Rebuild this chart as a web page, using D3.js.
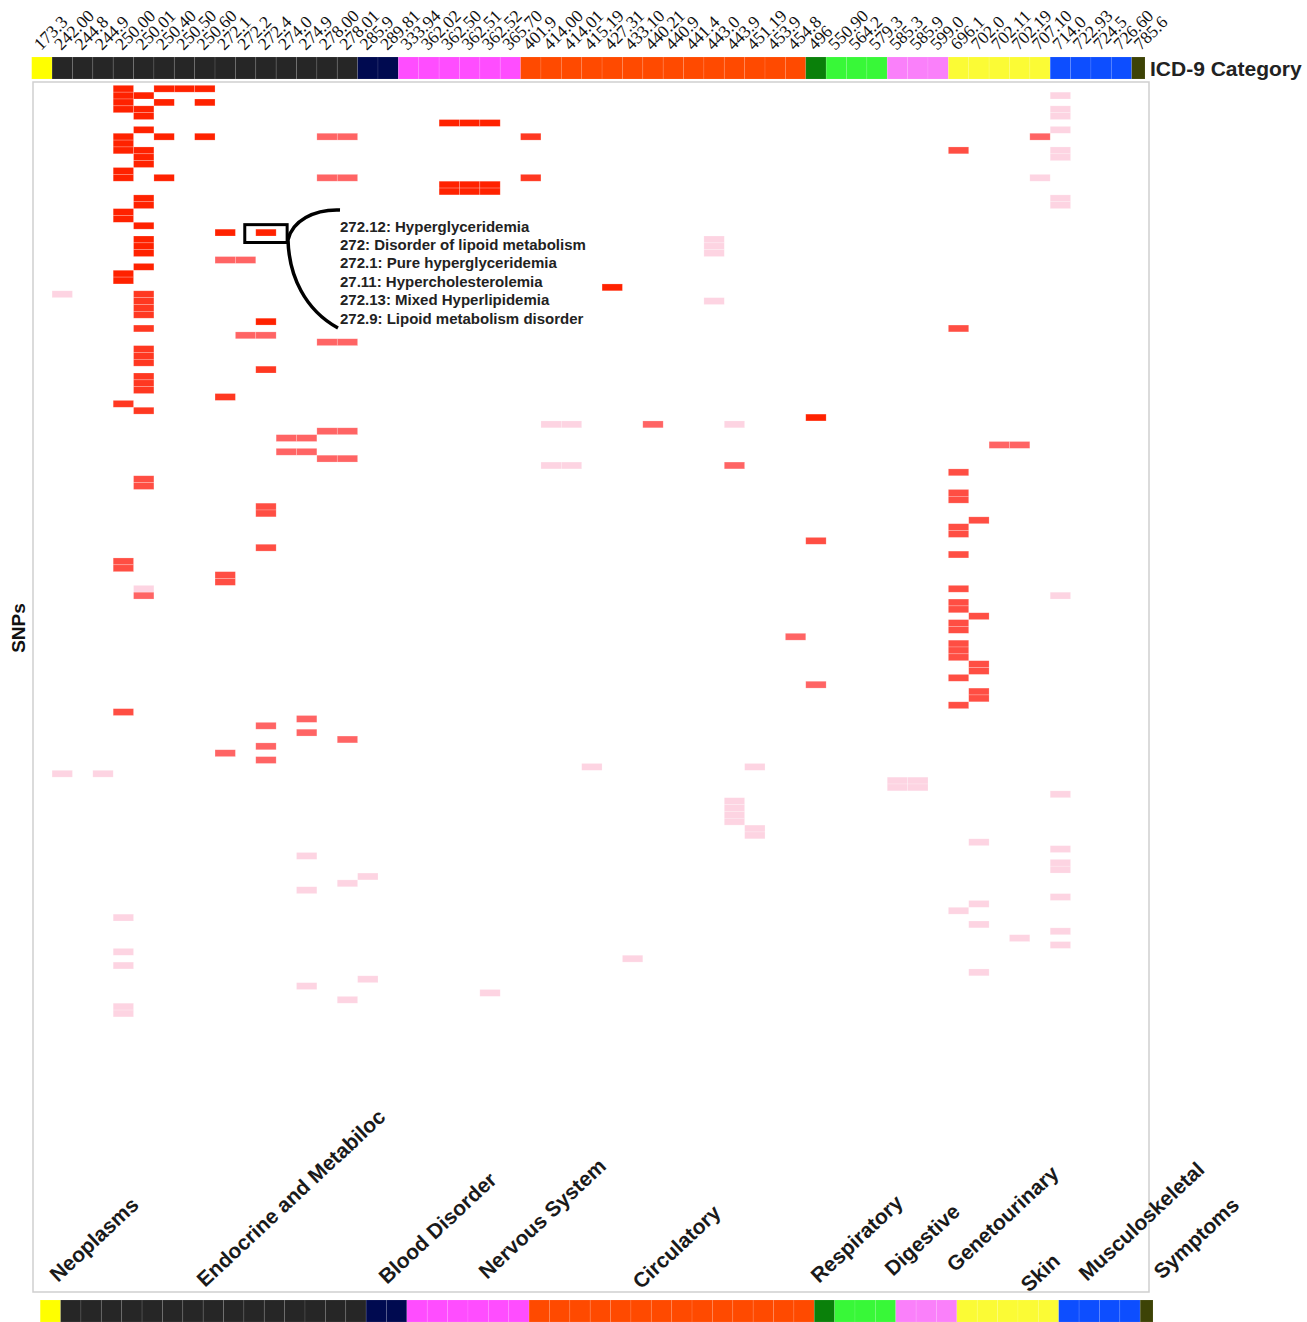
<!DOCTYPE html>
<html>
<head>
<meta charset="utf-8">
<script src="https://cdn.jsdelivr.net/npm/d3@7"></script>
<style>
  body { margin: 0; background: #fff; }
  svg { display: block; }
</style>
</head>
<body>
<div id="chart"></div>
<script>
// ICD-9 codes, one column each
const codes = ["173.3", "242.00", "244.8", "244.9", "250.00", "250.01", "250.40", "250.50", "250.60",
  "272.1", "272.2", "272.4", "274.0", "274.9", "278.00", "278.01", "285.9", "289.81", "333.94",
  "362.02", "362.50", "362.51", "362.52", "365.70", "401.9", "414.00", "414.01", "415.19", "427.31",
  "433.10", "440.21", "440.9", "441.4", "443.0", "443.9", "451.19", "453.9", "454.8", "496",
  "550.90", "564.2", "579.3", "585.3", "585.9", "599.0", "696.1", "702.0", "702.11", "702.19",
  "707.10", "714.0", "722.93", "724.5", "726.60", "785.6"];

const categories = ["Neoplasms", "Endocrine and Metabiloc", "Blood Disorder", "Nervous System", "Circulatory",
  "Respiratory", "Digestive", "Genetourinary", "Skin", "Musculoskeletal", "Symptoms"];
// number of codes in each category, in column order
const categorySizes = [1, 15, 2, 6, 14, 1, 3, 3, 5, 4, 1];

const snpCount = 176;

// hits: code -> SNP row indexes, one list per strength (4 = strongest)
const hits4 = {
  "250.00": [0, 1, 2, 3, 7, 8, 9, 12, 13, 18, 19, 27, 28],
  "250.01": [1, 3, 4, 6, 9, 10, 11, 16, 17, 20, 22, 23, 24, 26],
  "250.40": [0, 2, 7, 13],
  "250.50": [0],
  "250.60": [0, 2, 7],
  "272.1": [21],
  "272.4": [21, 34],
  "362.50": [5, 14, 15],
  "362.51": [5, 14, 15],
  "362.52": [5, 14, 15],
  "427.31": [29],
  "496": [48]
};
const hits3 = {
  "250.00": [46],
  "250.01": [30, 31, 32, 33, 35, 38, 39, 40, 42, 43, 44, 47],
  "272.1": [45],
  "272.4": [41],
  "401.9": [7, 13]
};
const hits2 = {
  "250.00": [69, 70, 91],
  "250.01": [57, 58],
  "272.1": [71, 72],
  "272.4": [61, 62, 67],
  "496": [66],
  "696.1": [9, 35, 56, 59, 60, 64, 65, 68, 73, 75, 76, 78, 79, 81, 82, 83, 86, 90],
  "702.0": [63, 77, 84, 85, 88, 89]
};
const hits1 = {
  "250.01": [74],
  "272.1": [25, 97],
  "272.2": [25, 36],
  "272.4": [36, 93, 96, 98],
  "274.0": [51, 53],
  "274.9": [51, 53, 92, 94],
  "278.00": [7, 13, 37, 50, 54],
  "278.01": [7, 13, 37, 50, 54, 95],
  "440.21": [49],
  "443.9": [55],
  "454.8": [80],
  "496": [87],
  "702.11": [52],
  "702.19": [52],
  "707.10": [7]
};
const hits0 = {
  "242.00": [30, 100],
  "244.9": [100],
  "250.00": [121, 126, 128, 134, 135],
  "250.01": [73],
  "274.9": [112, 117, 131],
  "278.01": [116, 133],
  "285.9": [115, 130],
  "362.52": [132],
  "414.00": [49, 55],
  "414.01": [49, 55],
  "415.19": [99],
  "433.10": [127],
  "443.0": [22, 23, 24, 31],
  "443.9": [49, 104, 105, 106, 107],
  "451.19": [99, 108, 109],
  "585.3": [101, 102],
  "585.9": [101, 102],
  "696.1": [120],
  "702.0": [110, 119, 122, 129],
  "702.19": [124],
  "707.10": [13],
  "714.0": [1, 3, 4, 6, 9, 10, 16, 17, 74, 103, 111, 113, 114, 118, 123, 125]
};

const annotationLines = ["272.12: Hyperglyceridemia", "272: Disorder of lipoid metabolism",
  "272.1: Pure hyperglyceridemia", "27.11: Hypercholesterolemia", "272.13: Mixed Hyperlipidemia",
  "272.9: Lipoid metabolism disorder"];

// ---- styles / layout ----
const catColors = ["#ffff00", "#262626", "#000a50", "#ff4dff", "#ff4a00", "#0a800a",
  "#38f838", "#fa80fa", "#fbfb35", "#0d4eff", "#3d4306"];
// bottom label anchors (start of baseline)
const catLabelPos = [[58, 1283], [205, 1288], [387, 1285], [487, 1280], [641, 1290], [819, 1284],
  [893, 1277], [955, 1273], [1029, 1293], [1087, 1282], [1162, 1280]];

const width = 1307, height = 1322;
const colX0 = 31.7, colW = 20.37;
const rowY0 = 85.3, rowH = 6.85;

const svg = d3.select('#chart').append('svg')
  .attr('width', width)
  .attr('height', height);

const x = d3.scaleBand().domain(codes).range([colX0, colX0 + codes.length * colW]);
const y = d3.scaleBand().domain(d3.range(snpCount)).range([rowY0, rowY0 + snpCount * rowH]);
const color = d3.scaleLinear().domain([0, 1, 4]).range(["#fdd4e2", "#ff6464", "#ff2200"]);

// code -> category index
const codeCat = [];
categorySizes.forEach((n, i) => { for (let k = 0; k < n; k++) codeCat.push(i); });

let cells = [];
[hits0, hits1, hits2, hits3, hits4].forEach((h, level) => {
  Object.keys(h).forEach(code => {
    h[code].forEach(r => cells.push({ code: code, row: r, level: level }));
  });
});

// panel border
svg.append('rect')
  .attr('x', 33).attr('y', 82)
  .attr('width', 1116).attr('height', 1210)
  .attr('fill', 'none')
  .attr('stroke', '#cfcfcf')
  .attr('stroke-width', 1.5);

// heatmap cells
svg.append('g').selectAll('rect')
  .data(cells)
  .enter()
  .append('rect')
  .attr('x', d => x(d.code))
  .attr('y', d => y(d.row))
  .attr('width', x.bandwidth())
  .attr('height', y.bandwidth())
  .attr('fill', d => color(d.level))
  .attr('stroke', '#fff')
  .attr('stroke-opacity', 0.35)
  .attr('stroke-width', 0.6);

// category color bars, top and bottom
function colorBar(offsetX, top, rightLimit) {
  svg.append('g').selectAll('rect')
    .data(codes)
    .enter()
    .append('rect')
    .attr('x', d => x(d) + offsetX)
    .attr('y', top)
    .attr('width', d => Math.max(0, Math.min(x.bandwidth(), rightLimit - x(d) - offsetX)))
    .attr('height', 22)
    .attr('fill', (d, i) => catColors[codeCat[i]])
    .attr('stroke', '#fff')
    .attr('stroke-opacity', 0.12)
    .attr('stroke-width', 0.8);
}
colorBar(0, 57, 1145);
colorBar(8.5, 1300, 1153);

// code labels on top
svg.append('g').selectAll('text')
  .data(codes)
  .enter()
  .append('text')
  .attr('transform', d => `translate(${x(d) + x.bandwidth() / 2 - 1}, 51) rotate(-45)`)
  .style('font-family', '"Liberation Serif", "Times New Roman", serif')
  .style('font-size', '17.5px')
  .attr('fill', '#111')
  .text(d => d);

svg.append('text')
  .attr('x', 1150).attr('y', 76)
  .style('font-family', '"Liberation Sans", Arial, sans-serif')
  .style('font-weight', 'bold')
  .style('font-size', '21px')
  .attr('fill', '#222')
  .text('ICD-9 Category');

svg.append('text')
  .attr('transform', 'translate(25, 628) rotate(-90)')
  .attr('text-anchor', 'middle')
  .style('font-family', '"Liberation Sans", Arial, sans-serif')
  .style('font-weight', 'bold')
  .style('font-size', '19px')
  .attr('fill', '#111')
  .text('SNPs');

// category names at the bottom
svg.append('g').selectAll('text')
  .data(categories)
  .enter()
  .append('text')
  .attr('transform', (d, i) => `translate(${catLabelPos[i][0]}, ${catLabelPos[i][1]}) rotate(-43)`)
  .style('font-family', '"Liberation Sans", Arial, sans-serif')
  .style('font-weight', 'bold')
  .style('font-size', '21px')
  .attr('fill', '#1a1a1a')
  .text(d => d);

// annotation: box around 272.4 hit, bracket and text
const boxCode = "272.4", boxRow = 21;
svg.append('rect')
  .attr('x', x(boxCode) - 11)
  .attr('y', y(boxRow) - 4.5)
  .attr('width', x.bandwidth() + 22)
  .attr('height', y.bandwidth() + 11)
  .attr('fill', 'none')
  .attr('stroke', '#000')
  .attr('stroke-width', 3);

svg.append('path')
  .attr('d', 'M340,210 C314,209 292,221 288,240 C289,276 305,310 338,328')
  .attr('fill', 'none')
  .attr('stroke', '#000')
  .attr('stroke-width', 3.5);

svg.append('g').selectAll('text')
  .data(annotationLines)
  .enter()
  .append('text')
  .attr('x', 340)
  .attr('y', (d, i) => 231.5 + i * 18.4)
  .style('font-family', '"Liberation Sans", Arial, sans-serif')
  .style('font-weight', 'bold')
  .style('font-size', '15px')
  .attr('fill', '#222')
  .text(d => d);
</script>
</body>
</html>
